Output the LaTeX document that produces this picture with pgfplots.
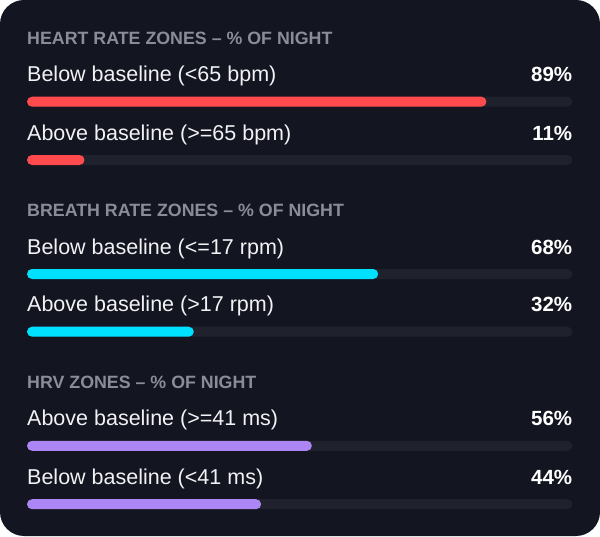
\documentclass[border=0pt]{standalone}
\usepackage{fontspec}
\setmainfont{Liberation Sans}
\usepackage{pgfplots}
\pgfplotsset{compat=1.18}

\definecolor{cardbg}{HTML}{131520}
\definecolor{track}{HTML}{1F212D}
\definecolor{hrred}{HTML}{FF4B4E}
\definecolor{brcyan}{HTML}{00E1FF}
\definecolor{hrvpurple}{HTML}{AD86F5}
\definecolor{titlegray}{HTML}{8A8D99}
\definecolor{labelwhite}{HTML}{F2F2F5}

\tikzset{
  ttl/.style={anchor=base west, inner sep=0pt, text=titlegray, font=\fontsize{17.8}{20}\selectfont\bfseries},
  lbl/.style={anchor=base west, inner sep=0pt, text=labelwhite, font=\fontsize{21.5}{24}\selectfont},
  pct/.style={anchor=base east, inner sep=0pt, text=white, font=\fontsize{20.5}{24}\selectfont\bfseries},
}

\begin{document}
\begin{tikzpicture}
% card
\fill[cardbg, rounded corners=24pt] (-27pt,0pt) rectangle (573pt,536pt);
\begin{axis}[
  at={(0pt,0pt)}, anchor=south west,
  scale only axis, width=545.4pt, height=536pt,
  xmin=0, xmax=105.3, ymin=0, ymax=536, y dir=reverse,
  enlargelimits=false, hide axis, clip=false,
  xbar, bar shift=0pt, bar width=10,
  every axis plot/.append style={draw=none, rounded corners=5pt},
]
% tracks
\addplot[fill=track] coordinates {
  (105.3,101.7) (105.3,160) (105.3,274) (105.3,331.7) (105.3,445.8) (105.3,504.2)};
% heart rate
\addplot[fill=hrred] coordinates {(88.7,101.7) (11.1,160)};
% breath rate
\addplot[fill=brcyan] coordinates {(67.8,274) (32.2,331.7)};
% hrv
\addplot[fill=hrvpurple] coordinates {(55.0,445.8) (45.2,504.2)};

\node[ttl] at (axis cs:0,44) {HEART RATE ZONES – \% OF NIGHT};
\node[lbl] at (axis cs:0,81.7) {Below baseline (<65 bpm)};
\node[pct] at (axis cs:105.3,81.7) {89\%};
\node[lbl] at (axis cs:0,140) {Above baseline (>=65 bpm)};
\node[pct] at (axis cs:105.3,140) {11\%};

\node[ttl] at (axis cs:0,216.3) {BREATH RATE ZONES – \% OF NIGHT};
\node[lbl] at (axis cs:0,254) {Below baseline (<=17 rpm)};
\node[pct] at (axis cs:105.3,254) {68\%};
\node[lbl] at (axis cs:0,311.7) {Above baseline (>17 rpm)};
\node[pct] at (axis cs:105.3,311.7) {32\%};

\node[ttl] at (axis cs:0,388.1) {HRV ZONES – \% OF NIGHT};
\node[lbl] at (axis cs:0,425.8) {Above baseline (>=41 ms)};
\node[pct] at (axis cs:105.3,425.8) {56\%};
\node[lbl] at (axis cs:0,484.2) {Below baseline (<41 ms)};
\node[pct] at (axis cs:105.3,484.2) {44\%};
\end{axis}
\end{tikzpicture}
\end{document}
